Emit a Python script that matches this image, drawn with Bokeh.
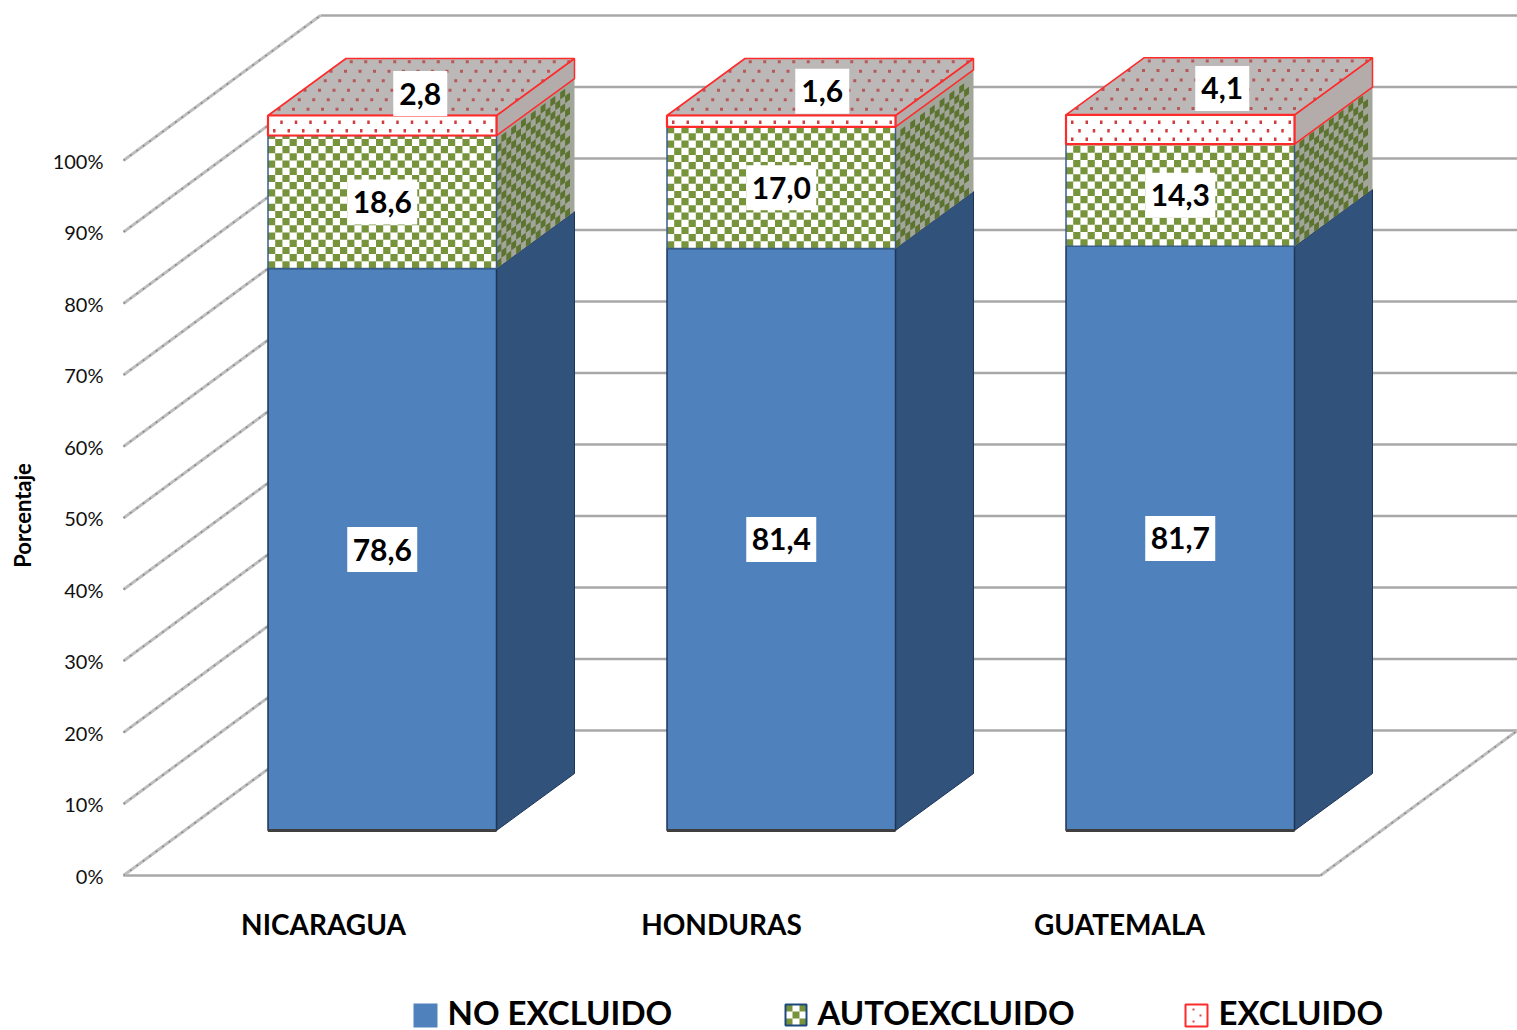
from bokeh.plotting import figure
from bokeh.embed import file_html
from bokeh.resources import INLINE
from bokeh.models import Range1d, LinearAxis, FixedTicker
from bokeh.core.properties import value

countries = ["NICARAGUA", "HONDURAS", "GUATEMALA"]
no_excluido = [78.6, 81.4, 81.7]
autoexcluido = [18.6, 17.0, 14.3]
excluido = [2.8, 1.6, 4.1]
y_ticks = [0, 10, 20, 30, 40, 50, 60, 70, 80, 90, 100]
legend_names = ["NO EXCLUIDO", "AUTOEXCLUIDO", "EXCLUIDO"]

FONT = "Lato"
PX = 7.15               # pixels per percentage point
Y0 = 875                # pixel row of 0 %
def py(pix): return (Y0 - pix) / PX

WALL_DX, WALL_DY = 197, 145 / PX
BAR_DX, BAR_DY = 78, 57 / PX
BAR_BASE = 45 / PX
BAR_W = 228.5
BAR_X = [267.5, 666.5, 1065.5]
CAT_X = [323, 721, 1119]
WALL_X0, WALL_X1, FLOOR_X1 = 123, 1517, 1320
TOP_LABEL_DROP = [32, 30, 41]
TOP_LABEL_SHIFT = [38, 41, 42]

p = figure(width=1517, height=1030, output_backend="svg", toolbar_location=None,
           x_range=Range1d(110, 1517), y_range=Range1d(py(1030), py(0)),
           x_axis_type=None, y_axis_type=None,
           min_border_left=110, min_border_right=0, min_border_top=0, min_border_bottom=0,
           outline_line_color=None, background_fill_color="white")
p.grid.visible = False

yax = LinearAxis(ticker=FixedTicker(ticks=y_ticks), axis_line_color=None,
                 major_tick_line_color=None, minor_tick_line_color=None,
                 major_label_text_font=FONT, major_label_text_font_size="20px",
                 major_label_text_color="#111111", major_label_standoff=1,
                 major_label_overrides={t: f"{t}%" for t in y_ticks},
                 axis_label="Porcentaje", axis_label_text_font=FONT,
                 axis_label_text_font_size="22px", axis_label_text_font_style="bold",
                 axis_label_text_color="black", axis_label_standoff=14)
p.add_layout(yax, "left")

xax = LinearAxis(ticker=FixedTicker(ticks=CAT_X), axis_line_color=None,
                 major_tick_line_color=None, minor_tick_line_color=None,
                 major_label_overrides={x: c for x, c in zip(CAT_X, countries)},
                 major_label_text_font=FONT, major_label_text_font_size="28px",
                 major_label_text_font_style="bold", major_label_text_color="black",
                 major_label_standoff=10, fixed_location=py(890))
p.add_layout(xax, "below")

# wall and floor gridlines
xs, ys = [], []
dx, dy = [], []
for t in y_ticks[1:]:
    dx.append([WALL_X0, WALL_X0 + WALL_DX]); dy.append([t, t + WALL_DY])
    xs.append([WALL_X0 + WALL_DX, WALL_X1]); ys.append([t + WALL_DY, t + WALL_DY])
dx += [[WALL_X0, WALL_X0 + WALL_DX], [FLOOR_X1, WALL_X1]]
dy += [[0, WALL_DY], [0, WALL_DY]]
xs += [[WALL_X0, FLOOR_X1], [WALL_X0 + WALL_DX, WALL_X1]]
ys += [[0, 0], [WALL_DY, WALL_DY]]
p.multi_line(xs, ys, line_color="#A8A8A8", line_width=2.5)
p.multi_line(dx, dy, line_color="#BEBEBE", line_width=3)
p.multi_line(dx, dy, line_color="#8A8A8A", line_width=1.5, line_dash="2 6")

def front(x, y0, y1):
    return [x, x + BAR_W, x + BAR_W, x], [y0, y0, y1, y1]

def side(x, y0, y1):
    xr = x + BAR_W
    return [xr, xr + BAR_DX, xr + BAR_DX, xr], [y0, y0 + BAR_DY, y1 + BAR_DY, y1]

def top(x, y):
    return [x, x + BAR_W, x + BAR_W + BAR_DX, x + BAR_DX], [y, y, y + BAR_DY, y + BAR_DY]

def checks_front(x, y0, y1, size=7.2):
    xs, ys = [], []
    r = 0
    yy = y0
    step = size / PX
    while yy < y1 - 1e-6:
        c = r % 2
        xx = x + c * size
        yt = min(yy + step, y1)
        while xx < x + BAR_W - 1e-6:
            xe = min(xx + size, x + BAR_W)
            xs.append([xx, xe, xe, xx]); ys.append([yy, yy, yt, yt])
            xx += 2 * size
        yy += step
        r += 1
    return xs, ys

def checks_side(x, y0, y1, w=4.9, size=7.2):
    xr = x + BAR_W
    xs, ys = [], []
    slope = BAR_DY / BAR_DX
    n = int(BAR_DX / w)
    step = size / PX
    rows = int((y1 - y0) / step)
    for i in range(n):
        for j in range(rows):
            if (i + j) % 2:
                continue
            a = xr + i * w
            b = xr + (i + 1) * w
            ya = y0 + j * step + i * w * slope
            yb = ya + w * slope
            xs.append([a, b, b, a]); ys.append([ya, yb, yb + step, ya + step])
    return xs, ys

def dots_front(x, y0, y1, gap=14.5, row=8.5):
    xs, ys = [], []
    r = 0
    yy = y0 + 3 / PX
    while yy < y1 - 3 / PX:
        xx = x + 5 + (r % 2) * gap / 2
        while xx < x + BAR_W - 3:
            xs.append([xx, xx + 2.5, xx + 2.5, xx])
            ys.append([yy, yy, yy + 3.5 / PX, yy + 3.5 / PX])
            xx += gap
        yy += row / PX
        r += 1
    return xs, ys

def dots_top(x, y, gap=14.5, row=9.5):
    xs, ys = [], []
    n = int(57 / row)
    for j in range(n):
        f = (j + 0.5) / n
        ox = x + f * BAR_DX + (j % 2) * gap / 2
        yy = y + f * BAR_DY
        xx = ox + 3
        while xx < ox + BAR_W - 3:
            xs.append([xx, xx + 3, xx + 3, xx])
            ys.append([yy, yy, yy + 3 / PX, yy + 3 / PX])
            xx += gap
    return xs, ys

def sq(p_x, p_y, s=24):
    return [p_x, p_x + s, p_x + s, p_x], [py(p_y + s), py(p_y + s), py(p_y), py(p_y)]

BLUE, BLUE_D, OLIVE, OLIVE_D, RED = "#4F81BD", "#31527B", "#77933C", "#5C7430", "#FF2A2A"

for i, x in enumerate(BAR_X):
    a = BAR_BASE
    b = a + no_excluido[i]
    c = b + autoexcluido[i]
    d = c + excluido[i]

    # side faces
    sx, sy = side(x, a, b)
    p.patch(sx, sy, fill_color=BLUE_D, line_color="#1F3558", line_width=1)
    sx, sy = side(x, b, c)
    p.patch(sx, sy, fill_color="#A2A59A", line_color=None)
    cx, cy = checks_side(x, b, c)
    p.patches(cx, cy, fill_color=OLIVE_D, line_color=None)
    sx, sy = side(x, c, d)
    p.patch(sx, sy, fill_color="#B4ABAB", line_color=RED, line_width=1.5)

    # top face
    tx, ty = top(x, d)
    p.patch(tx, ty, fill_color="#BDB8B8", line_color=None)
    cx, cy = dots_top(x, d)
    p.patches(cx, cy, fill_color="#B65858", line_color=None)
    p.line(tx + tx[:1], ty + ty[:1], line_color=RED, line_width=1.6)

    # front faces
    fx, fy = front(x, a, b)
    p.patch(fx, fy, fill_color=BLUE, line_color="#1F3558", line_width=1.5)
    p.line([x, x + BAR_W], [a, a], line_color="#3F3F3F", line_width=3)
    fx, fy = front(x, b, c)
    p.patch(fx, fy, fill_color="white", line_color=None)
    cx, cy = checks_front(x, b, c)
    p.patches(cx, cy, fill_color=OLIVE, line_color=None)
    p.patch(fx, fy, fill_color=None, line_color="#385D8A", line_width=1.5)
    fx, fy = front(x, c, d)
    p.patch(fx, fy, fill_color="white", line_color=None)
    cx, cy = dots_front(x, c, d)
    p.patches(cx, cy, fill_color="#D03C3C", line_color=None)
    p.patch(fx, fy, fill_color=None, line_color=RED, line_width=2.2)

    # data labels
    mid = x + BAR_W / 2
    items = [(mid, a + no_excluido[i] / 2, no_excluido[i], 70),
             (mid, b + autoexcluido[i] / 2, autoexcluido[i], 70),
             (mid + TOP_LABEL_SHIFT[i], c + excluido[i] / 2 + TOP_LABEL_DROP[i] / PX, excluido[i], 54)]
    for lx, ly, v, w in items:
        p.rect([lx], [ly], width=w, height=45 / PX, fill_color="white", line_color=None)
        p.text([lx], [ly], text=[f"{v:.1f}".replace(".", ",")], text_font=value(FONT),
               text_font_size="30px", text_font_style="bold", text_color="black",
               text_align="center", text_baseline="middle")

# legend row
LEG_SQ = [413, 785, 1185]
LEG_TX = [447, 817, 1218]
sx, sy = sq(LEG_SQ[0], 1003)
p.patch(sx, sy, fill_color=BLUE, line_color=None)
sx, sy = sq(LEG_SQ[1], 1004, 21)
p.patch(sx, sy, fill_color="white", line_color=None)
step = 7
for r in range(3):
    for cl in range(3):
        if (r + cl) % 2 == 0:
            qx, qy = sq(LEG_SQ[1] + cl * step, 1004 + r * step, step)
            p.patch(qx, qy, fill_color=OLIVE, line_color=None)
p.patch(sx, sy, fill_color=None, line_color="#1F497D", line_width=2)
sx, sy = sq(LEG_SQ[2], 1004, 22)
p.patch(sx, sy, fill_color="white", line_color=RED, line_width=2)
for ddx, ddy in [(7, 4), (7, 16), (14, 10)]:
    qx, qy = sq(LEG_SQ[2] + ddx, 1004 + ddy, 2)
    p.patch(qx, qy, fill_color="#D84A4A", line_color=None)
p.text(LEG_TX, [py(1011)] * 3, text=legend_names, text_font=value(FONT), text_font_size="33px",
       text_font_style="bold", text_color="black", text_align="left", text_baseline="middle")

open("out.html", "w").write(file_html(p, INLINE))
